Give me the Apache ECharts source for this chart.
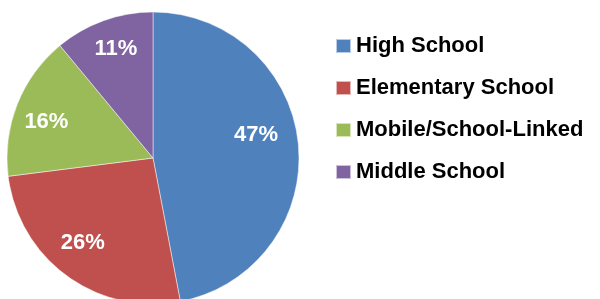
<!DOCTYPE html>
<html>
<head>
<meta charset="utf-8">
<script src="https://cdn.jsdelivr.net/npm/echarts@6/dist/echarts.min.js"></script>
<style>
  html, body { margin: 0; padding: 0; background: #fff; }
  #chart { width: 600px; height: 299px; }
</style>
</head>
<body>
<div id="chart"></div>
<script>
const categories = ['High School', 'Elementary School', 'Mobile/School-Linked', 'Middle School'];
const values = [47, 26, 16, 11];
const colors = ['#4F81BD', '#C0504D', '#9BBB59', '#8064A2'];
const labelShift = [[-9, -12], [-4, -6], [-2, 5], [1, -3]];

const FONT = '"Liberation Sans", Arial, sans-serif';
const chart = echarts.init(document.getElementById('chart'), null, { renderer: 'canvas' });

const baseData = categories.map((c, i) => ({
  name: c, value: values[i], itemStyle: { color: colors[i] }
}));
const labelData = categories.map((c, i) => ({
  name: c, value: values[i], label: { offset: labelShift[i] }
}));

chart.setOption({
  animation: false,
  backgroundColor: '#ffffff',
  legend: {
    orient: 'vertical',
    left: 330,
    top: 30,
    itemWidth: 15,
    itemHeight: 14,
    itemGap: 20,
    icon: 'rect',
    selectedMode: false,
    data: categories.map((c, i) => ({ name: c, itemStyle: { color: colors[i] } })),
    textStyle: { fontFamily: FONT, fontWeight: 'bold', fontSize: 22, lineHeight: 22, color: '#000' }
  },
  series: [
    {
      type: 'pie',
      center: [153, 158],
      radius: [0, 146],
      startAngle: 90,
      clockwise: true,
      silent: true,
      label: { show: false },
      labelLine: { show: false },
      emphasis: { disabled: true },
      itemStyle: { borderColor: 'rgba(255,255,255,0.6)', borderWidth: 0.8 },
      data: baseData
    },
    {
      type: 'pie',
      center: [153, 158],
      radius: [73, 146],
      startAngle: 90,
      clockwise: true,
      silent: true,
      legendHoverLink: false,
      itemStyle: { color: 'rgba(0,0,0,0)', borderWidth: 0 },
      label: {
        show: true,
        position: 'inside',
        formatter: p => p.value + '%',
        fontFamily: FONT,
        fontWeight: 'bold',
        fontSize: 22,
        color: '#ffffff'
      },
      labelLine: { show: false },
      emphasis: { disabled: true },
      data: labelData
    }
  ]
});
</script>
</body>
</html>
